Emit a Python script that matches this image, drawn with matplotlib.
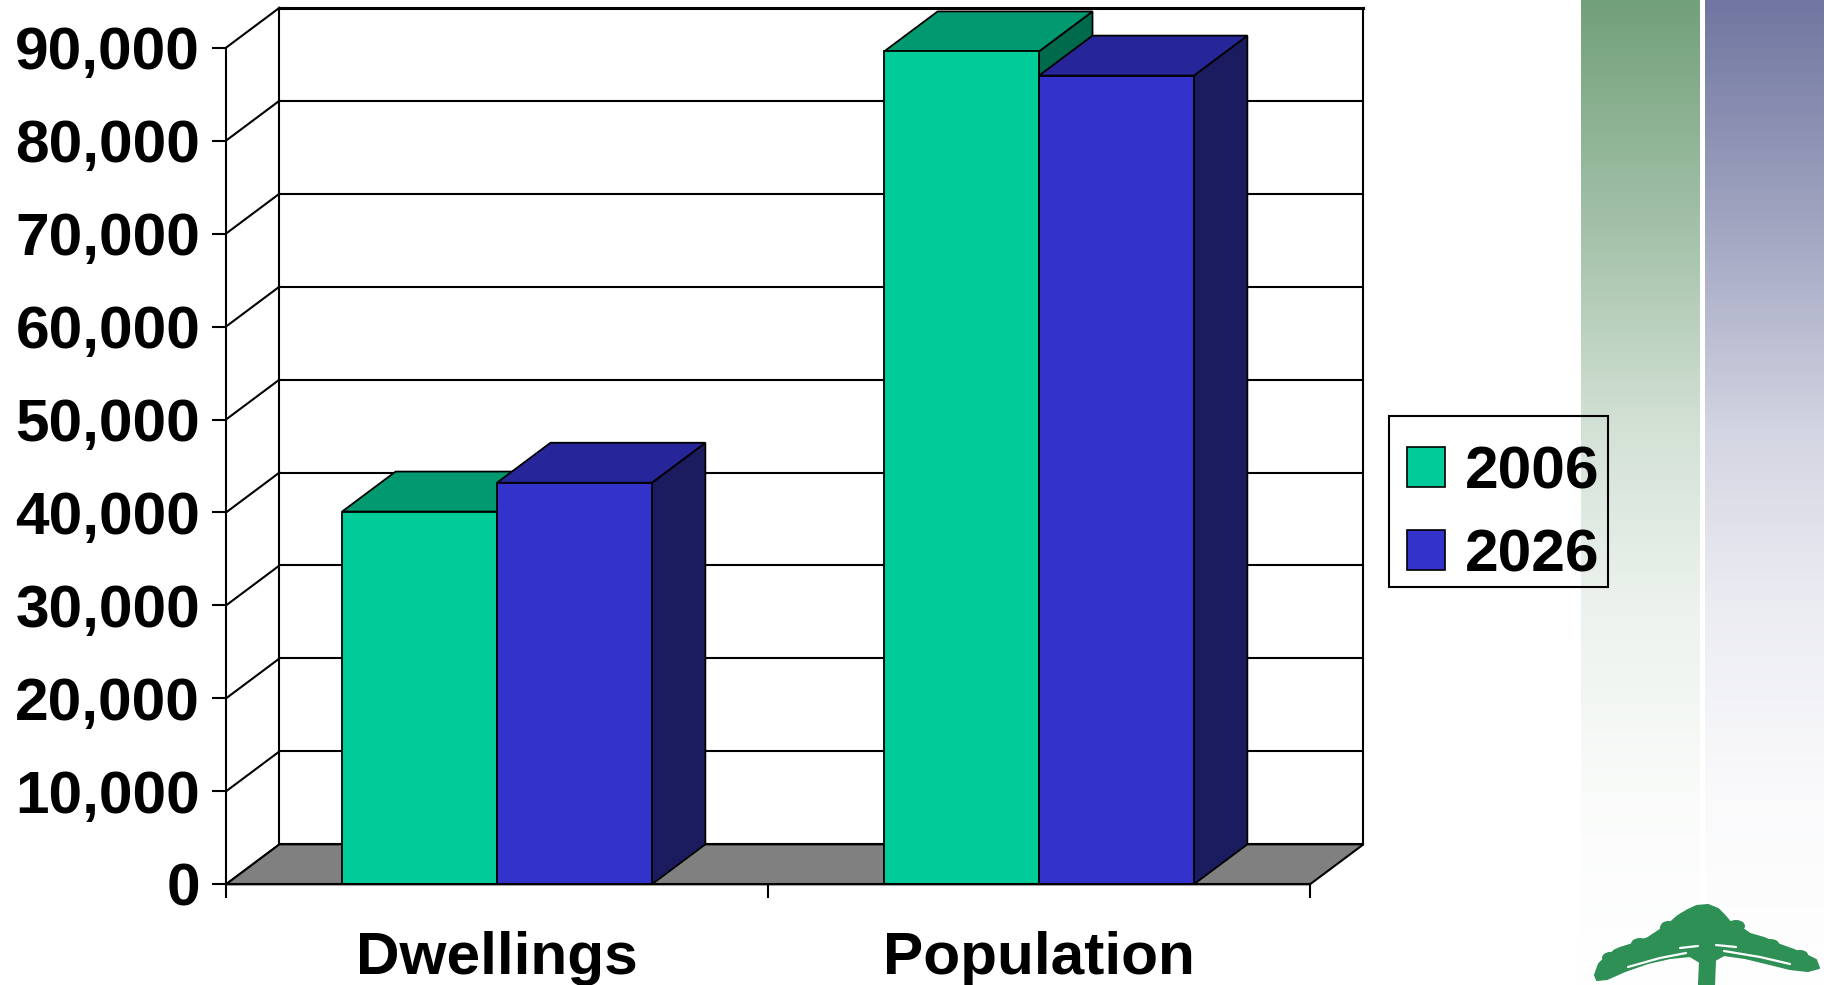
import numpy as np
import matplotlib
matplotlib.use("Agg")
import matplotlib.pyplot as plt
from matplotlib.patches import Polygon, Patch, Ellipse, Rectangle
from matplotlib.colors import to_rgb
from matplotlib.ticker import FixedLocator, FuncFormatter, NullFormatter

# ---- data -------------------------------------------------------------
categories = ["Dwellings", "Population"]
series_names = ["2006", "2026"]
values_2006 = [40100, 89600]
values_2026 = [43200, 87000]
y_ticks = list(range(0, 90001, 10000))

# ---- styling ----------------------------------------------------------
front_colors = ["#00CC99", "#3333CC"]
top_colors = ["#009970", "#26269A"]
side_colors = ["#006A4D", "#1B1B60"]
floor_color = "#808080"

plt.rcParams["font.family"] = ["Liberation Sans", "DejaVu Sans"]
plt.rcParams["font.weight"] = "bold"

W, H, DPI = 1833, 985, 100
fig = plt.figure(figsize=(W / DPI, H / DPI), dpi=DPI, facecolor="white")

# ---- decorative layer (pixel coordinates) -----------------------------
bg = fig.add_axes([0, 0, 1, 1], zorder=0)
bg.axis("off")

rows = np.arange(H)
fade = np.interp(rows, [0, 234, 430, 600, 800, 985], [0, 0.36, 0.69, 0.86, 0.965, 1.0])
for x0, x1, top in [(1581, 1700, "#72A07A"), (1705, 1824, "#7076A0")]:
    c = np.array(to_rgb(top))
    col = c[None, :] * (1 - fade[:, None]) + fade[:, None]
    bg.imshow(col[:, None, :], extent=(x0, x1, H, 0), aspect="auto",
              interpolation="bilinear", zorder=0)

# tree logo
tree_green = "#2E9055"
canopy = [(1595, 975), (1599, 964), (1608, 955), (1620, 948), (1633, 944), (1648, 938),
          (1660, 930), (1670, 923), (1678, 916), (1688, 910), (1697, 906), (1708, 905),
          (1718, 909), (1724, 915), (1730, 922), (1740, 927), (1750, 934), (1764, 938),
          (1780, 945), (1794, 950), (1806, 955), (1816, 960), (1819, 968), (1808, 971),
          (1790, 969), (1770, 964), (1745, 958), (1724, 955), (1715, 960), (1714, 985),
          (1699, 985), (1700, 962), (1690, 956), (1670, 958), (1648, 963), (1625, 971),
          (1607, 979), (1597, 980)]
bg.add_patch(Polygon(canopy, closed=True, facecolor=tree_green, edgecolor=tree_green,
                     lw=1.5, joinstyle="round", zorder=2))
for cx, cy, rw, rh in [(1610, 958, 16, 12), (1640, 944, 18, 12), (1668, 928, 16, 14),
                       (1700, 912, 20, 14), (1736, 926, 18, 12), (1770, 944, 18, 10),
                       (1800, 955, 16, 10), (1686, 918, 16, 12), (1620, 953, 16, 10)]:
    bg.add_patch(Ellipse((cx, cy), rw, rh, facecolor=tree_green, edgecolor="none", zorder=2))
for seg in [[(1628, 967), (1660, 958), (1686, 953)], [(1724, 951), (1760, 957), (1790, 964)],
            [(1680, 948), (1698, 946)], [(1716, 945), (1736, 947)]]:
    xs, ys = zip(*seg)
    bg.plot(xs, ys, color="white", lw=1.6, solid_capstyle="round", zorder=3)

bg.set_xlim(0, W)
bg.set_ylim(H, 0)

# ---- chart axes: front plane of the 3-D box ---------------------------
y_max = y_ticks[-1]
n_cat = len(categories)
ax = fig.add_axes([226 / W, (H - 884.3) / H, 1084 / W, (884.3 - 47.7) / H], zorder=1)
ax.set_facecolor("none")
ax.set_xlim(0, n_cat)
ax.set_ylim(0, y_max)

depth_x = 0.0987      # depth offset along category axis
depth_y = 4300        # depth offset along value axis
lw = 1.5

# side wall and back wall gridlines
for v in y_ticks:
    ax.plot([0, depth_x], [v, v + depth_y], color="black", lw=lw, clip_on=False, zorder=1)
    ax.plot([depth_x, n_cat + depth_x], [v + depth_y, v + depth_y], color="black",
            lw=(2.2 if v == y_max else lw), clip_on=False, zorder=1)
for xb in (depth_x, n_cat + depth_x):
    ax.plot([xb, xb], [depth_y, y_max + depth_y], color="black", lw=lw, clip_on=False, zorder=1)

# floor
ax.add_patch(Polygon([(0, 0), (n_cat, 0), (n_cat + depth_x, depth_y), (depth_x, depth_y)],
                     closed=True, facecolor=floor_color, edgecolor="black", lw=lw,
                     clip_on=False, zorder=2))

# 3-D columns
gap_width = 1.5
bar_w = 1 / (len(series_names) + gap_width)
series_values = [values_2006, values_2026]
z = 3
for ci in range(n_cat):
    left0 = ci + 0.5 - bar_w * len(series_names) / 2
    for si, vals in enumerate(series_values):
        x0 = left0 + si * bar_w
        x1 = x0 + bar_w
        h = vals[ci]
        kw = dict(closed=True, edgecolor="black", lw=1.3, clip_on=False, joinstyle="miter")
        ax.add_patch(Polygon([(x1, 0), (x1 + depth_x, depth_y), (x1 + depth_x, h + depth_y), (x1, h)],
                             facecolor=side_colors[si], zorder=z, **kw))
        ax.add_patch(Polygon([(x0, h), (x1, h), (x1 + depth_x, h + depth_y), (x0 + depth_x, h + depth_y)],
                             facecolor=top_colors[si], zorder=z, **kw))
        ax.add_patch(Polygon([(x0, 0), (x1, 0), (x1, h), (x0, h)],
                             facecolor=front_colors[si], zorder=z, **kw))
        z += 1

# axes lines, ticks and labels
for s in ("top", "right"):
    ax.spines[s].set_visible(False)
for s in ("left", "bottom"):
    ax.spines[s].set_linewidth(lw)
    ax.spines[s].set_zorder(10)

ax.yaxis.set_major_locator(FixedLocator(y_ticks))
ax.yaxis.set_major_formatter(FuncFormatter(lambda v, p: f"{int(v):,}"))
ax.tick_params(axis="y", which="major", direction="out", length=10, width=lw,
               pad=8.6, labelsize=43.5)

ax.xaxis.set_major_locator(FixedLocator(list(range(n_cat + 1))))
ax.xaxis.set_major_formatter(NullFormatter())
ax.xaxis.set_minor_locator(FixedLocator([i + 0.5 for i in range(n_cat)]))
ax.xaxis.set_minor_formatter(FuncFormatter(lambda v, p: categories[int(v)]))
ax.tick_params(axis="x", which="major", direction="out", length=10, width=lw)
ax.tick_params(axis="x", which="minor", length=0, pad=33.5, labelsize=43.5)
for t in ax.get_xticklabels(minor=True) + ax.get_yticklabels():
    t.set_fontweight("bold")

# legend: entries plus a separate frame
handles = [Patch(facecolor=front_colors[i], edgecolor="black", lw=1.2, label=series_names[i])
           for i in range(len(series_names))]
leg = fig.legend(handles=handles, loc="upper left",
                 bbox_to_anchor=(1389 / W, 1 - 427 / H), frameon=False,
                 borderpad=0.3, borderaxespad=0,
                 handlelength=0.63, handleheight=0.63, handletextpad=0.33,
                 labelspacing=0.47, prop={"weight": "bold", "size": 43.5})
leg.set_zorder(5)
fig.add_artist(Rectangle((1389 / W, 1 - 587 / H), 219 / W, 171 / H,
                         transform=fig.transFigure, facecolor="none",
                         edgecolor="black", lw=1.5, zorder=5))

fig.savefig("out.png", dpi=DPI, facecolor="white")
